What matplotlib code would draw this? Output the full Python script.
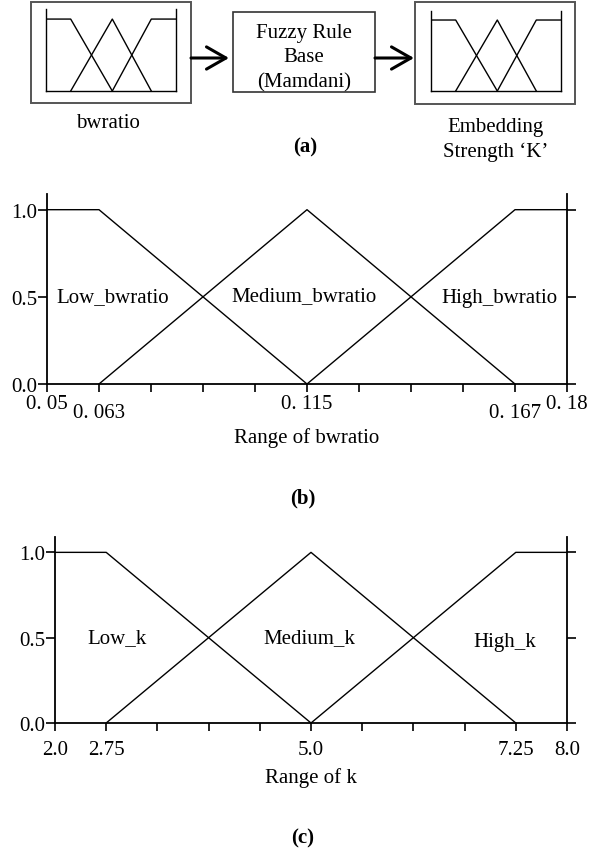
import numpy as np
import matplotlib
matplotlib.use("Agg")
from matplotlib import pyplot as plt
from matplotlib.patches import Rectangle

plt.rcParams['font.family'] = ['Liberation Serif', 'DejaVu Serif']
plt.rcParams['font.size'] = 15

# (b) membership functions of bwratio
bw_low_x = [0.05, 0.063, 0.115]
bw_low_y = [1.0, 1.0, 0.0]
bw_med_x = [0.063, 0.115, 0.167]
bw_med_y = [0.0, 1.0, 0.0]
bw_high_x = [0.115, 0.167, 0.18]
bw_high_y = [0.0, 1.0, 1.0]
bw_ticks = [0.05, 0.063, 0.115, 0.167, 0.18]
bw_ticklabels = ['0. 05', '0. 063', '0. 115', '0. 167', '0. 18']
bw_names = ['Low_bwratio', 'Medium_bwratio', 'High_bwratio']

# (c) membership functions of k
k_low_x = [2.0, 2.75, 5.0]
k_low_y = [1.0, 1.0, 0.0]
k_med_x = [2.75, 5.0, 7.25]
k_med_y = [0.0, 1.0, 0.0]
k_high_x = [5.0, 7.25, 8.0]
k_high_y = [0.0, 1.0, 1.0]
k_ticks = [2.0, 2.75, 5.0, 7.25, 8.0]
k_ticklabels = ['2.0', '2.75', '5.0', '7.25', '8.0']
k_names = ['Low_k', 'Medium_k', 'High_k']
# the k axis is drawn with equal spacing between ticks, not linear
k_steps = [0, 1, 5, 9, 10]

# (a) small icons of the membership functions
mini_low_x = [0.0, 0.19, 0.51]
mini_med_x = [0.19, 0.51, 0.81]
mini_high_x = [0.51, 0.81, 1.0]

W, H = 590, 854
fig = plt.figure(figsize=(W / 100, H / 100), dpi=100)


def px_axes(x0, x1, ytop, ybot):
    return fig.add_axes([x0 / W, (H - ybot) / H, (x1 - x0) / W, (ybot - ytop) / H])


# ---------- (a) block diagram ----------
ax0 = fig.add_axes([0, (H - 170) / H, 1, 170 / H])
ax0.set_xlim(0, W)
ax0.set_ylim(170, 0)
ax0.axis('off')
ax0.add_patch(Rectangle((31, 3), 160, 101, fill=False, ec='#555555', lw=1.4))
ax0.add_patch(Rectangle((415, 3), 160, 102, fill=False, ec='#555555', lw=1.4))
ax0.add_patch(Rectangle((233, 13), 142, 80, fill=False, ec='#333333', lw=1.2))
for xa, xb in [(191, 229), (375, 414)]:
    ax0.annotate('', xy=(xb, 59), xytext=(xa, 59),
                 arrowprops=dict(arrowstyle='->, head_length=0.7, head_width=0.4',
                                 lw=2.2, color='black', mutation_scale=20,
                                 shrinkA=0, shrinkB=0))
ax0.text(304, 58, 'Fuzzy Rule\nBase\n(Mamdani)', ha='center', va='center',
         linespacing=1.4)
ax0.text(108, 123, 'bwratio', ha='center', va='center')
ax0.text(305, 147, '(a)', ha='center', va='center', fontweight='bold')
ax0.text(496, 140, 'Embedding\nStrength \u2018K\u2019', ha='center', va='center',
         linespacing=1.35)

for (x0, x1, yt, yb, top) in [(46, 176, 10, 92, 1.14), (431, 561, 12, 92, 1.127)]:
    axm = px_axes(x0, x1, yt, yb)
    axm.plot(mini_low_x, bw_low_y, color='black', lw=1.0)
    axm.plot(mini_med_x, bw_med_y, color='black', lw=1.0)
    axm.plot(mini_high_x, bw_high_y, color='black', lw=1.0)
    axm.set_xlim(0, 1)
    axm.set_ylim(0, top)
    axm.set_xticks([])
    axm.set_yticks([])
    axm.spines['top'].set_visible(False)
    for s in ['left', 'right', 'bottom']:
        axm.spines[s].set_linewidth(1.0)
    axm.patch.set_alpha(0)


def style_axes(ax):
    ax.spines['top'].set_visible(False)
    for s in ['left', 'right', 'bottom']:
        ax.spines[s].set_linewidth(1.3)
    ax.set_ylim(0, 1.09)
    ax.set_yticks([0.0, 0.5, 1.0])
    ax.set_yticklabels(['0.0', '0.5', '1.0'])
    ax.tick_params(axis='y', which='both', direction='out', length=6.5, width=1.2,
                   left=True, right=True, pad=0.5)
    ax.tick_params(axis='x', which='both', direction='out', length=6, width=1.2)
    ax.patch.set_alpha(0)


# ---------- (b) bwratio ----------
axb = px_axes(47, 567, 195, 385)
axb.plot(bw_low_x, bw_low_y, color='black', lw=1.0, clip_on=False)
axb.plot(bw_med_x, bw_med_y, color='black', lw=1.0, clip_on=False)
axb.plot(bw_high_x, bw_high_y, color='black', lw=1.0, clip_on=False)
axb.set_xlim(bw_ticks[0], bw_ticks[-1])
style_axes(axb)
axb.set_xticks(np.linspace(bw_ticks[0], bw_ticks[-1], 11), minor=True)
axb.set_xticks(bw_ticks)
axb.set_xticklabels(bw_ticklabels)
axb.tick_params(axis='x', pad=1)
for i, t in enumerate(axb.xaxis.get_major_ticks()):
    if i in (1, 3):
        t.set_pad(8)
for name, xp, yp in zip(bw_names, [0.0665, 0.1143, 0.163], [0.5, 0.505, 0.494]):
    axb.text(xp, yp, name, ha='center', va='center')
axb.set_xlabel('Range of bwratio')
axb.xaxis.set_label_coords(0.5, -0.279)
axb.xaxis.label.set_va('center')
fig.text(303 / W, 1 - 498 / H, '(b)', ha='center', va='center', fontweight='bold')

# ---------- (c) k ----------
fwd = lambda v: np.interp(v, k_ticks, k_steps)
inv = lambda v: np.interp(v, k_steps, k_ticks)
axc = px_axes(55, 567, 538, 724)
axc.set_xscale('function', functions=(fwd, inv))
axc.plot(k_low_x, k_low_y, color='black', lw=1.0, clip_on=False)
axc.plot(k_med_x, k_med_y, color='black', lw=1.0, clip_on=False)
axc.plot(k_high_x, k_high_y, color='black', lw=1.0, clip_on=False)
axc.set_xlim(k_ticks[0], k_ticks[-1])
style_axes(axc)
axc.set_xticks(inv(np.arange(11)), minor=True)
axc.set_xticks(k_ticks)
axc.set_xticklabels(k_ticklabels)
axc.tick_params(axis='x', pad=6)
for name, xp, yp in zip(k_names, [2.87, 4.98, 7.13], [0.503, 0.503, 0.48]):
    axc.text(xp, yp, name, ha='center', va='center')
axc.set_xlabel('Range of k')
axc.xaxis.set_label_coords(0.5, -0.29)
axc.xaxis.label.set_va('center')
fig.text(303 / W, 1 - 838 / H, '(c)', ha='center', va='center', fontweight='bold')

fig.savefig('out.png', dpi=100)
